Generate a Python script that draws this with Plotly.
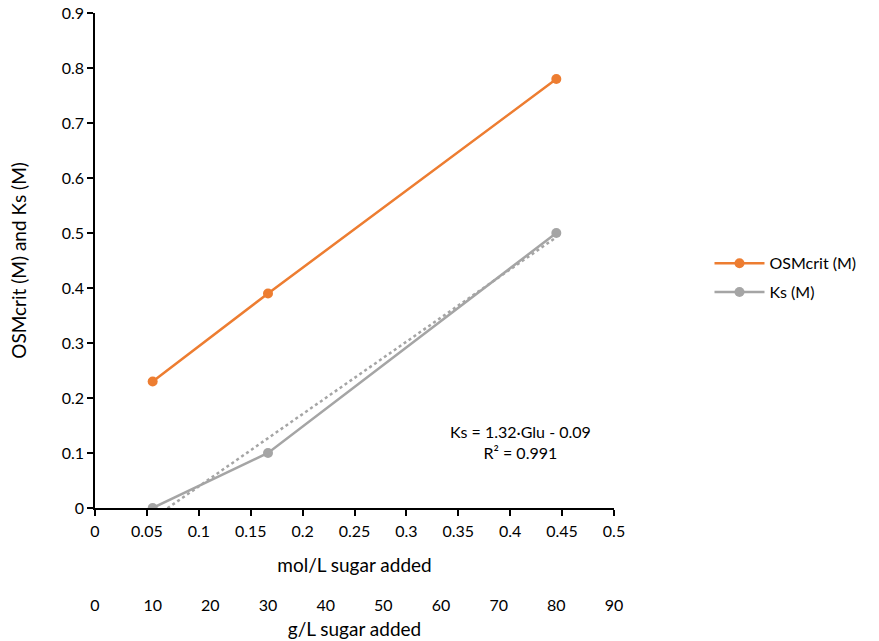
import numpy as np
import plotly.graph_objects as go

# Data
sugar_gL = [10, 30, 80]                      # g/L glucose added
molar_mass = 180.0                           # g/mol glucose
sugar_molL = [g / molar_mass for g in sugar_gL]
osmcrit = [0.23, 0.39, 0.78]
ks = [0.0, 0.10, 0.50]
trend_text = "Ks = 1.32·Glu - 0.09<br>R² = 0.991"

x_ticks_mol = [0, 0.05, 0.1, 0.15, 0.2, 0.25, 0.3, 0.35, 0.4, 0.45, 0.5]
x_ticks_g = [0, 10, 20, 30, 40, 50, 60, 70, 80, 90]
y_ticks = [0, 0.1, 0.2, 0.3, 0.4, 0.5, 0.6, 0.7, 0.8, 0.9]

ORANGE = "#ED7D31"
GRAY = "#A5A5A5"
FONT = "Lato"
FS = 16

# linear trendline of Ks
slope, intercept = np.polyfit(sugar_molL, ks, 1)
tx = np.array([sugar_molL[0], sugar_molL[-1]])
ty = slope * tx + intercept

fig = go.Figure()
fig.add_trace(go.Scatter(x=sugar_molL, y=osmcrit, mode="lines+markers", name="OSMcrit (M)",
                         legendgroup="a",
                         line=dict(color=ORANGE, width=2.5), marker=dict(color=ORANGE, size=10)))
fig.add_trace(go.Scatter(x=sugar_molL, y=ks, mode="lines+markers", name="Ks (M)",
                         legendgroup="b",
                         line=dict(color=GRAY, width=2.5), marker=dict(color=GRAY, size=10)))
fig.add_trace(go.Scatter(x=tx, y=ty, mode="lines", showlegend=False,
                         line=dict(color=GRAY, width=2.5, dash="dot")))
# invisible trace for second axis
fig.add_trace(go.Scatter(x=[0, 90], y=[None, None], xaxis="x2", yaxis="y", mode="markers",
                         showlegend=False, hoverinfo="skip"))

fig.add_annotation(x=0.41, y=0.12, xref="x", yref="y", text=trend_text, showarrow=False,
                   font=dict(family=FONT, size=FS, color="#000000"), align="center")

fig.update_layout(
    width=879, height=641,
    margin=dict(l=95, r=265, t=13, b=5, autoexpand=False),
    paper_bgcolor="white", plot_bgcolor="white",
    font=dict(family=FONT, size=FS, color="#000000"),
    legend=dict(x=1.184, y=0.575, xanchor="left", yanchor="middle",
                font=dict(family=FONT, size=FS), tracegroupgap=5, itemwidth=50),
    xaxis=dict(range=[0, 0.5], tickvals=x_ticks_mol, ticktext=[str(v) for v in x_ticks_mol],
               showgrid=False, zeroline=False, showline=True, linecolor="black", linewidth=1.5,
               ticks="outside", ticklen=6, tickcolor="black", tickwidth=1.5, automargin=False,
               ticklabelstandoff=2,
               title=dict(text="mol/L sugar added", standoff=20), anchor="y"),
    xaxis2=dict(range=[0, 90], tickvals=x_ticks_g, overlaying="x", side="bottom",
                anchor="free", position=0.067, showgrid=False, zeroline=False, showline=False,
                ticks="", automargin=False, title=dict(text="g/L sugar added", standoff=9)),
    yaxis=dict(range=[0, 0.9], tickvals=y_ticks, ticktext=[str(v) for v in y_ticks],
               domain=[0.2055, 1], showgrid=False, zeroline=False, showline=True,
               linecolor="black", linewidth=1.5, ticks="outside", ticklen=6, tickcolor="black",
               tickwidth=1.5, automargin=False, title=dict(text="OSMcrit (M) and Ks (M)", standoff=30)),
)

fig.write_html("out.html")
